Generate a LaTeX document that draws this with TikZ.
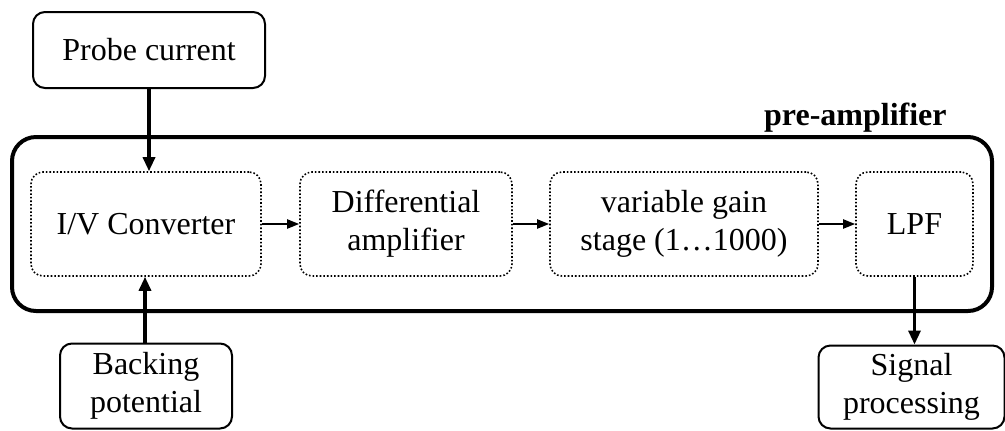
\documentclass[tikz,border=0pt]{standalone}
\usepackage{fontspec}
\setmainfont{Liberation Serif}
\usetikzlibrary{arrows.meta}

\begin{document}
\begin{tikzpicture}[x=0.5pt,y=-0.5pt,
	every node/.style={font=\fontsize{16}{19}\selectfont, align=center, inner sep=0pt},
	outbox/.style={draw, line width=1pt, rounded corners=6pt},
	stagebox/.style={draw, densely dotted, line width=0.8pt, rounded corners=6pt, minimum height=52pt},
	sig/.style={-{Triangle[length=7pt,width=6pt]}, line width=1.6pt},
	link/.style={-{Triangle[length=6pt,width=4.5pt]}, line width=1pt}]
	\useasboundingbox (0,0) rectangle (1005,430);
	%    outer block
	\node[draw, line width=2pt, rounded corners=12pt, minimum width=490pt, minimum height=87pt] (pre) at (502,224) {};
	\node[anchor=base east, font=\fontsize{16}{19}\selectfont\bfseries] (prelabel) at (947,125) {pre-amplifier};
	% stages
	\node[stagebox, minimum width=115pt] (iv) at (146,224) {I/V Converter};
	\node[stagebox, minimum width=106pt] (diff) at (406,224) {Differential\\amplifier};
	\node[stagebox, minimum width=134pt] (gain) at (684,224) {variable gain\\stage (1\ldots1000)};
	\node[stagebox, minimum width=58.5pt] (lpf) at (914.5,224) {LPF};
	% inputs and output
	\node[outbox, minimum width=116pt, minimum height=38pt] (probe) at (149,50) {Probe current};
	\node[outbox, minimum width=86pt, minimum height=42.5pt] (back) at (146,386) {Backing\\potential};
	\node[outbox, minimum width=93pt, minimum height=41.5pt] (out) at (911.5,387) {Signal\\processing};

	\draw[sig] (probe.south) -- (probe.south |- iv.north);
	\draw[sig] (back.north -| 145,0) -- (145,0 |- iv.south);
	\draw[sig] (lpf.south) -- (lpf.south |- out.north);
	\draw[link] (iv) -- (diff);
	\draw[link] (diff) -- (gain);
	\draw[link] (gain) -- (lpf);

\end{tikzpicture}
\end{document}
